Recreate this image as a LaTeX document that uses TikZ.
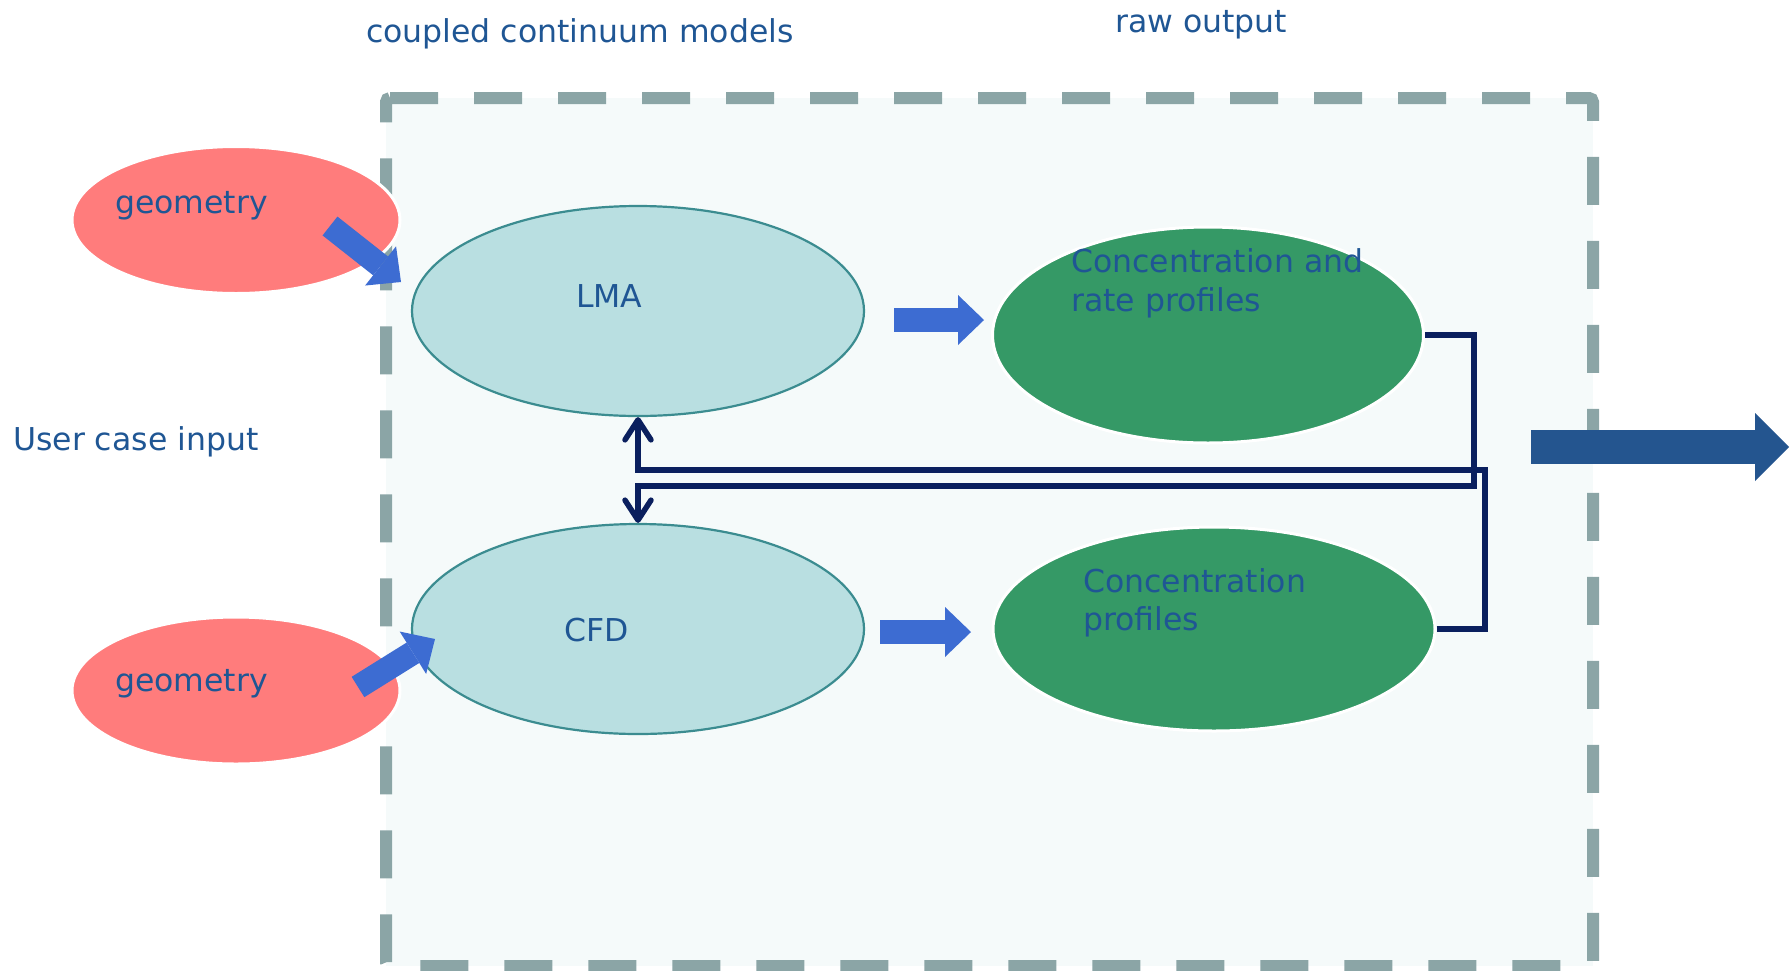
\documentclass[tikz,border=0pt]{standalone}
\usepackage{fontspec}
\setmainfont{DejaVu Sans}
\usetikzlibrary{shapes.geometric,arrows.meta}
\definecolor{txtblue}{RGB}{31,86,148}
\definecolor{salmon}{RGB}{255,124,124}
\definecolor{lteal}{RGB}{185,223,225}
\definecolor{tealedge}{RGB}{59,140,144}
\definecolor{dgreen}{RGB}{53,153,102}
\definecolor{arrowblue}{RGB}{61,108,210}
\definecolor{outblue}{RGB}{36,85,143}
\definecolor{navy}{RGB}{10,31,94}
\definecolor{dashgray}{RGB}{139,165,166}
\definecolor{boxfill}{RGB}{245,250,250}
\begin{document}
\begin{tikzpicture}[x=1pt,y=-1pt,
  lbl/.style={anchor=base west,inner sep=0pt,text=txtblue,font=\fontsize{31.5}{38}\selectfont},
  geo/.style={ellipse,fill=salmon,draw=white,line width=3pt,minimum width=328pt,minimum height=147pt,inner sep=0pt},
  model/.style={ellipse,fill=lteal,draw=tealedge,line width=2.2pt,minimum width=452pt,minimum height=210pt,inner sep=0pt},
  res/.style={ellipse,fill=dgreen,draw=white,line width=3pt,inner sep=0pt},
  blockarrow/.style={draw=arrowblue,line width=24pt,-{Triangle[length=26pt,width=50pt,line width=0pt]}},
  conn/.style={draw=navy,line width=5.5pt,-{Straight Barb[length=20pt,width=26pt,round]}},
]
\useasboundingbox (0,0) rectangle (1791,970);
% dashed frame
\path[fill=boxfill] (386,98) rectangle (1593,966);
\draw[dashgray,line width=12pt,dash pattern=on 48pt off 36pt,rounded corners=4pt]
  (386,98) -- (1593,98) -- (1593,966) -- (386,966) -- cycle;

% nodes
\node[geo] (g1) at (236,220) {};
\node[geo] (g2) at (236,690.5) {};
\node[model] (lma) at (638,311) {};
\node[model] (cfd) at (638,629) {};
\node[res,minimum width=431pt,minimum height=216pt] (c1) at (1208,335) {};
\node[res,minimum width=442pt,minimum height=204pt] (c2) at (1214,629) {};

% feedback connectors
\coordinate (k1) at (1474,486);
\coordinate (k2) at (1485,470);
\draw[conn] (c1.east) -| (k1) -| (cfd.north);
\draw[conn] (c2.east) -| (k2) -| (lma.south);

% block arrows
\coordinate (a1s) at (330,226); \coordinate (a1e) at (401,282);
\coordinate (a2s) at (358,687); \coordinate (a2e) at (435,639);
\coordinate (a3s) at (894,320); \coordinate (a3e) at (984,320);
\coordinate (a4s) at (880,632); \coordinate (a4e) at (971,632);
\coordinate (a5s) at (1531,447); \coordinate (a5e) at (1789,447);
\draw[blockarrow] (a1s) -- (a1e);
\draw[blockarrow] (a2s) -- (a2e);
\draw[blockarrow] (a3s) -- (a3e);
\draw[blockarrow] (a4s) -- (a4e);
\draw[draw=outblue,line width=34pt,-{Triangle[length=34pt,width=68pt,line width=0pt]}] (a5s) -- (a5e);

% texts
\node[lbl] (t1) at (366,42) {coupled continuum models};
\node[lbl] (t2) at (1115,32) {raw output};
\node[lbl] (t3) at (13,450) {User case input};
\node[lbl] (t4) at (115,213) {geometry};
\node[lbl] (t5) at (115,691) {geometry};
\node[lbl] (t6) at (576,307) {LMA};
\node[lbl] (t7) at (564,641) {CFD};
\node[lbl] (t8) at (1071,272) {Concentration and};
\node[lbl] (t9) at (1071,311) {rate profiles};
\node[lbl] (t10) at (1083,592) {Concentration};
\node[lbl] (t11) at (1083,630) {profiles};
\end{tikzpicture}
\end{document}
